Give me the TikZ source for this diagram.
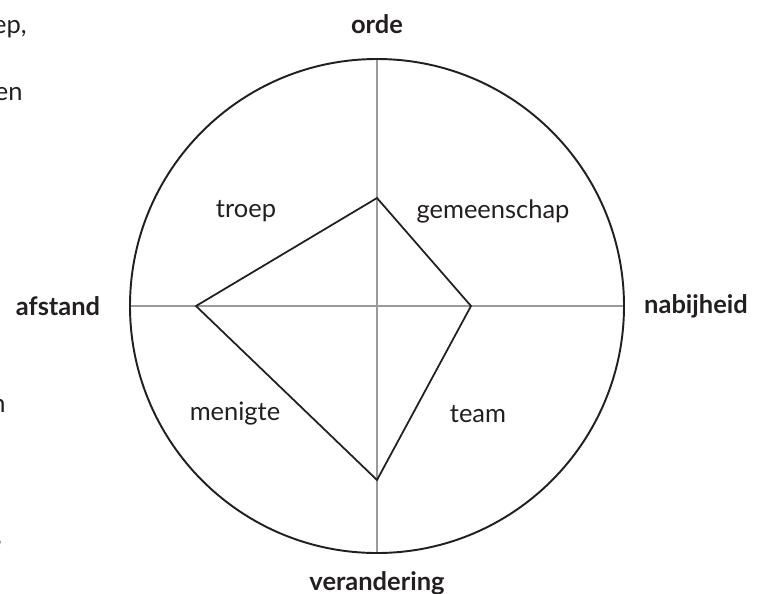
\documentclass[tikz,border=0pt]{standalone}
\usepackage{fontspec}
\setmainfont{Lato}
\usetikzlibrary{positioning}
\definecolor{ink}{HTML}{231F20}
\definecolor{axisgray}{HTML}{9A9A9A}

\begin{document}
\begin{tikzpicture}[x=0.02cm, y=-0.02cm,
			axis/.style={draw=axisgray, line width=1pt},
			rim/.style={draw=ink, line width=1.1pt},
			kite/.style={draw=ink, line width=1pt, line join=miter},
			pole/.style={font=\fontsize{14.5}{17}\selectfont\bfseries, text=ink, inner sep=0pt},
			group/.style={font=\fontsize{14.5}{17}\selectfont, text=ink, inner sep=0pt},
			margin/.style={font=\fontsize{14.5}{17}\selectfont, text=ink, inner sep=0pt, anchor=base east}
			]
			\useasboundingbox (0,0) rectangle (768,593);
			\coordinate (c) at (377,306);
			\coordinate (top) at (377,59);
			\coordinate (bottom) at (377,553);
			\coordinate (left) at (130,306);
			\coordinate (right) at (624,306);
			\coordinate (v1) at (377,198);
			\coordinate (v2) at (471,306);
			\coordinate (v3) at (377,480);
			\coordinate (v4) at (196,306);
			
			% axes and circle
			\draw[axis] (top) -- (bottom);
			\draw[axis] (left) -- (right);
			\draw[rim] (c) circle (247);
			\draw[kite] (v1) -- (v2) -- (v3) -- (v4) -- cycle;
			
			% poles
			\node[pole](orde) at (377,24) {orde};
			\node[pole](verandering) at (377,583) {verandering};
			\node[pole](afstand) at (58,306) {afstand};
			\node[pole](nabijheid) at (696,306) {nabijheid};
			
			% groups
			\node[group](troep) at (246,211) {troep};
			\node[group](gemeenschap) at (493,211) {gemeenschap};
			\node[group](menigte) at (235,414) {menigte};
			\node[group](team) at (478,414) {team};
			
			% text of the neighbouring column
			\node[margin](m1) at (27,33) {ep,};
			\node[margin](m2) at (23,100) {en};
			\node[margin](m3) at (6,412) {n};
			\node[margin](m4) at (2,550) {e};
		\end{tikzpicture}
\end{document}
